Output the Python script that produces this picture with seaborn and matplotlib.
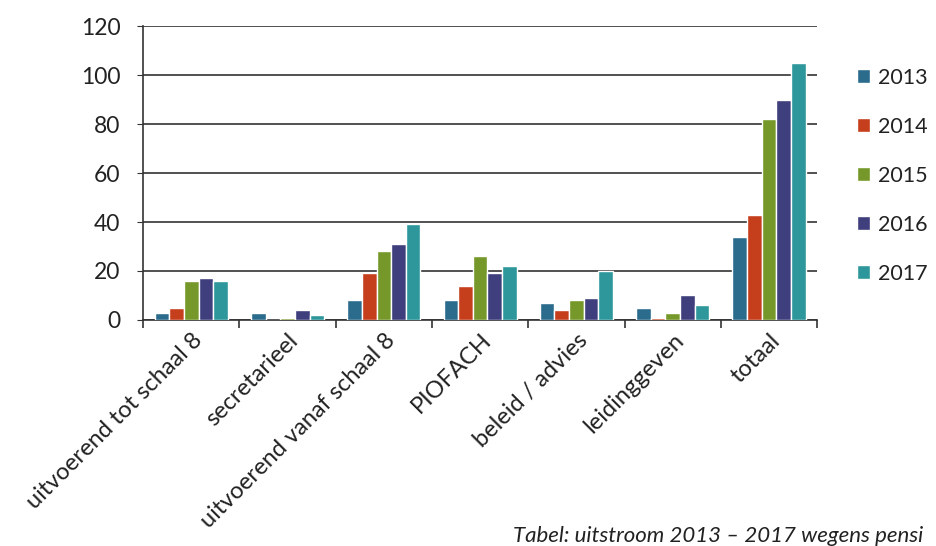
import pandas as pd
import seaborn as sns
import matplotlib.pyplot as plt

categories = ['uitvoerend tot schaal 8', 'secretarieel',
              'uitvoerend vanaf schaal 8', 'PIOFACH', 'beleid / advies',
              'leidinggeven', 'totaal']
years = ['2013', '2014', '2015', '2016', '2017']
v2013 = [3, 3, 8, 8, 7, 5, 34]
v2014 = [5, 0, 19, 14, 4, 1, 43]
v2015 = [16, 1, 28, 26, 8, 3, 82]
v2016 = [17, 4, 31, 19, 9, 10, 90]
v2017 = [16, 2, 39, 22, 20, 6, 105]
colors = ['#2b6c8c', '#c63f1c', '#76982a', '#3e3f7c', '#2e979c']
caption = 'Tabel: uitstroom 2013 \u2013 2017 wegens pensi'

sns.set_style('white')
plt.rcParams['font.family'] = ['Lato', 'DejaVu Sans']

df = pd.DataFrame({'categorie': categories * 5,
                   'jaar': [y for y in years for _ in categories],
                   'aantal': v2013 + v2014 + v2015 + v2016 + v2017})

fig = plt.figure(figsize=(9.36, 5.46), dpi=100)
ax = fig.add_axes([0.153, 0.414, 0.72, 0.538])
sns.barplot(data=df, x='categorie', y='aantal', hue='jaar',
            palette=colors, width=0.76, saturation=1, ax=ax, zorder=3)

ax.set_ylim(0, 120)
ax.set_yticks(range(0, 121, 20))
ax.yaxis.grid(True, color='#333333', linewidth=1.2, zorder=0)
ax.set_xlim(-0.5, len(categories) - 0.5)
for s in ['top', 'right']:
    ax.spines[s].set_visible(False)
for s in ['left', 'bottom']:
    ax.spines[s].set_color('#333333')
    ax.spines[s].set_linewidth(1.2)
ax.set_xlabel('')
ax.set_ylabel('')
ax.tick_params(axis='y', labelsize=16.5, left=True, length=4.5, pad=12,
               color='#333333', labelcolor='#222222')
# Excel-style tick marks between categories
ax.set_xticks([i - 0.5 for i in range(len(categories) + 1)], minor=True)
ax.tick_params(axis='x', which='minor', bottom=True, length=6,
               color='#333333', width=1.2)
ax.tick_params(axis='x', which='major', bottom=False, labelsize=17,
               labelcolor='#222222')
plt.setp(ax.get_xticklabels(), rotation=45, ha='right',
         rotation_mode='anchor')

ax.legend(loc='upper left', bbox_to_anchor=(1.03, 0.925), frameon=False,
          fontsize=15.5, handlelength=0.6, handleheight=0.6,
          handletextpad=0.4, labelspacing=1.35, labelcolor='#222222')

fig.text(0.548, 0.008, caption, fontsize=16, style='italic',
         color='#222222')

fig.savefig('out.png', dpi=100)
